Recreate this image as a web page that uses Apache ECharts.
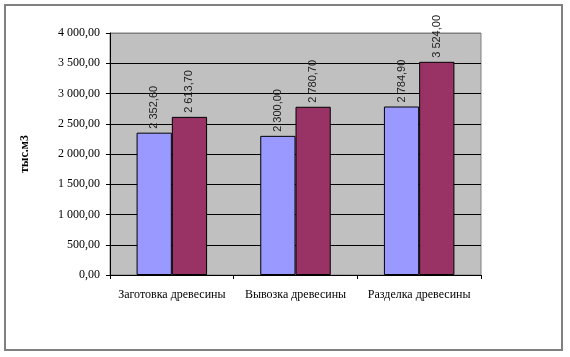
<!DOCTYPE html>
<html>
<head>
<meta charset="utf-8">
<script src="https://cdn.jsdelivr.net/npm/echarts@6/dist/echarts.min.js"></script>
<style>
html,body{margin:0;padding:0;background:#fff;}
#c{width:570px;height:357px;}
</style>
</head>
<body>
<div id="c"></div>
<script>
var categories = ['Заготовка древесины', 'Вывозка древесины', 'Разделка древесины'];
var series1 = [2352.6, 2300.0, 2784.9];
var series2 = [2613.7, 2780.7, 3524.0];
var yAxisName = 'тыс.м3';

function fmt(v) {
  var s = Number(v).toFixed(2);
  var parts = s.split('.');
  var ip = parts[0].replace(/\B(?=(\d{3})+(?!\d))/g, ' ');
  return ip + ',' + parts[1];
}

var chart = echarts.init(document.getElementById('c'), null, {renderer: 'canvas'});
var labelCfg = {
  show: true,
  position: 'top',
  rotate: 90,
  align: 'left',
  verticalAlign: 'middle',
  distance: 4,
  fontFamily: 'Liberation Sans',
  fontSize: 11,
  color: '#222',
  formatter: function (p) { return fmt(p.value); }
};
chart.setOption({
  animation: false,
  backgroundColor: '#fff',
  graphic: [{
    type: 'rect',
    shape: {x: 5, y: 5, width: 557, height: 345},
    style: {fill: 'none', stroke: '#808080', lineWidth: 2},
    silent: true
  }],
  grid: {
    left: 110, right: 89, top: 33, bottom: 82,
    show: true,
    backgroundColor: '#C0C0C0',
    borderColor: '#808080',
    borderWidth: 1
  },
  xAxis: {
    type: 'category',
    data: categories,
    axisLine: {lineStyle: {color: '#000', width: 1}},
    axisTick: {show: true, length: 4, lineStyle: {color: '#000'}},
    axisLabel: {interval: 0, fontFamily: 'Liberation Serif', fontSize: 12, color: '#000', margin: 14}
  },
  yAxis: {
    type: 'value',
    min: 0, max: 4000, interval: 500,
    name: yAxisName,
    nameLocation: 'middle',
    nameGap: 79,
    nameRotate: 90,
    nameTextStyle: {fontFamily: 'Liberation Serif', fontSize: 12, fontWeight: 'bold', color: '#000'},
    axisLine: {show: true, lineStyle: {color: '#000', width: 1}},
    axisTick: {show: true, length: 4, lineStyle: {color: '#000'}},
    axisLabel: {fontFamily: 'Liberation Serif', fontSize: 12, color: '#000', margin: 10, formatter: fmt},
    splitLine: {show: true, lineStyle: {color: ['#000','#000','#000','#000','#000','#000','#000','#000','#808080'], width: 1}}
  },
  series: [{
    type: 'bar',
    data: series1,
    barGap: '0%',
    barCategoryGap: '43%',
    itemStyle: {color: '#9999FF', borderColor: '#000', borderWidth: 1},
    label: labelCfg
  }, {
    type: 'bar',
    data: series2,
    barGap: '0%',
    barCategoryGap: '43%',
    itemStyle: {color: '#993366', borderColor: '#000', borderWidth: 1},
    label: labelCfg
  }]
});
</script>
</body>
</html>
